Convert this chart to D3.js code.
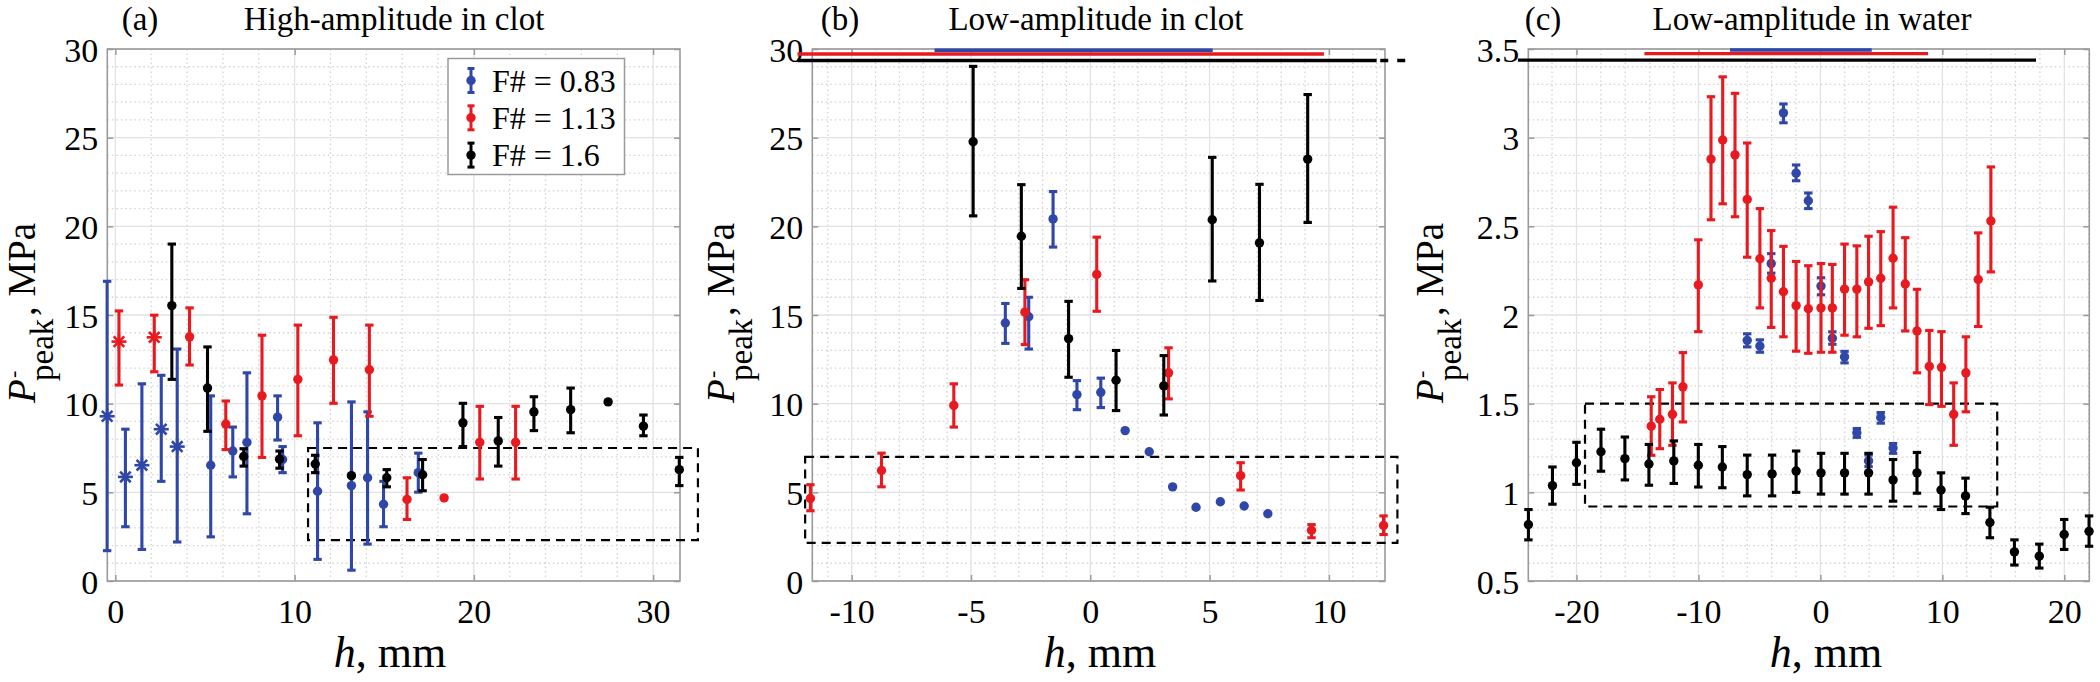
<!DOCTYPE html>
<html><head><meta charset="utf-8">
<script src="https://cdn.jsdelivr.net/npm/d3@7"></script>
<style>
body{margin:0;background:#fff}
svg{display:block}
text{font-family:"Liberation Serif","Times New Roman",serif;fill:#000}
</style>
</head><body>
<svg id="c" width="2100" height="682"></svg>
<script>
// ---------------- DATA ----------------
// each point: [h (mm), P (MPa), lower, upper, marker]
const seriesNames = ["F# = 0.83", "F# = 1.13", "F# = 1.6"];

// (a) High-amplitude in clot
const aTicksX = [0, 10, 20, 30];
const aTicksY = [0, 5, 10, 15, 20, 25, 30];
const aDomX = [-0.45, 31.5];
const aDomY = [0, 30];
const aBlue = [
  [-0.46, 9.29, 1.71, 16.9, "*"], [0.56, 5.87, 3.06, 8.56, "*"], [1.48, 6.53, 1.78, 11.12, "*"],
  [2.56, 8.56, 5.62, 11.6, "*"], [3.45, 7.58, 2.2, 13.08, "*"],
  [5.32, 6.53, 2.49, 10.44], [6.55, 7.33, 5.87, 8.68], [7.34, 7.82, 3.79, 11.74],
  [9.05, 9.24, 7.95, 10.44], [9.33, 6.85, 6.11, 7.58], [11.28, 5.06, 1.22, 8.92],
  [13.17, 5.38, 0.61, 10.1], [14.07, 5.82, 2.08, 9.54], [14.96, 4.33, 3.06, 5.62],
  [16.9, 6.11, 5.01, 7.21]
];
const aRed = [
  [0.2, 13.5, 11.05, 15.23, "*"], [2.17, 13.74, 11.8, 14.99, "*"],
  [4.14, 13.77, 12.18, 15.4], [6.16, 8.85, 7.41, 10.15], [8.18, 10.44, 6.97, 13.86],
  [10.18, 11.37, 8.19, 14.43], [12.17, 12.47, 10.02, 14.87], [14.17, 11.91, 9.29, 14.43],
  [16.27, 4.6, 3.47, 5.82], [18.34, 4.69, null, null], [20.33, 7.82, 5.75, 9.85],
  [22.33, 7.82, 5.75, 9.85]
];
const aBlack = [
  [3.15, 15.53, 11.37, 19.0], [5.14, 10.88, 8.44, 13.2], [7.16, 7.02, 6.48, 7.46],
  [9.16, 6.87, 6.36, 7.33], [11.15, 6.6, 6.11, 7.09], [13.17, 5.94, null, null],
  [15.14, 5.82, 5.31, 6.28], [17.14, 5.99, 5.09, 6.85], [19.39, 8.92, 7.58, 10.02],
  [21.36, 7.9, 6.48, 9.22], [23.35, 9.54, 8.48, 10.39], [25.4, 9.66, 8.36, 10.88],
  [27.49, 10.1, null, null], [29.46, 8.73, 8.19, 9.36], [31.46, 6.28, 5.38, 6.97]
];
const aRect = [10.75, 32.5, 2.3, 7.5];

// (b) Low-amplitude in clot
const bTicksX = [-10, -5, 0, 5, 10];
const bTicksY = [0, 5, 10, 15, 20, 25, 30];
const bDomX = [-11.65, 12.35];
const bDomY = [0, 30];
const bBlue = [
  [-3.56, 14.55, 13.4, 15.65], [-2.58, 14.9, 13.08, 16.0], [-1.56, 20.42, 18.83, 21.96],
  [-0.56, 10.51, 9.66, 11.3], [0.44, 10.64, 9.78, 11.44], [1.46, 8.48, null, null],
  [2.47, 7.29, null, null], [3.45, 5.31, null, null], [4.43, 4.16, null, null],
  [5.45, 4.47, null, null], [6.45, 4.23, null, null], [7.44, 3.79, null, null]
];
const bRed = [
  [-11.73, 4.65, 3.96, 5.43], [-8.75, 6.23, 5.31, 7.21], [-5.72, 9.9, 8.68, 11.12],
  [-2.74, 15.16, 13.33, 16.99], [0.27, 17.29, 15.21, 19.39], [3.28, 11.74, 10.27, 13.15],
  [6.3, 5.94, 5.13, 6.67], [9.27, 2.86, 2.44, 3.18], [12.29, 3.13, 2.62, 3.67]
];
const bBlack = [
  [-4.91, 24.77, 20.59, 29.02], [-2.89, 19.44, 16.5, 22.35], [-0.91, 13.67, 11.49, 15.77],
  [1.08, 11.32, 9.61, 13.0], [3.08, 11.0, 9.36, 12.71], [5.11, 20.37, 16.92, 23.89],
  [7.09, 19.07, 15.82, 22.37], [9.11, 23.79, 20.22, 27.43]
];
const bRect = [-11.95, 12.87, 2.15, 7.0];
// focal-range bars at top: [start, end, level]
const bBlueRange = [-6.53, 5.13, 29.93];
const bRedRange = [-12.27, 9.79, 29.72];
const bBlackRange = [-12.27, 12.0, 29.35];
const bBlackDashed = [12.15, 13.3, 29.35];

// (c) Low-amplitude in water
const cTicksX = [-20, -10, 0, 10, 20];
const cTicksY = [0.5, 1, 1.5, 2, 2.5, 3, 3.5];
const cDomX = [-23.95, 22.05];
const cDomY = [0.5, 3.5];
const cBlue = [
  [-6.0, 1.857, 1.82, 1.894], [-4.96, 1.825, 1.79, 1.86], [-4.03, 2.29, 2.236, 2.346],
  [-3.03, 3.14, 3.084, 3.19], [-1.99, 2.8, 2.757, 2.846], [-0.99, 2.644, 2.6, 2.688],
  [0.05, 2.163, 2.114, 2.21], [0.98, 1.869, 1.835, 1.905], [1.98, 1.764, 1.73, 1.795],
  [2.99, 1.336, 1.31, 1.36], [3.95, 1.177, 1.145, 1.21], [4.95, 1.422, 1.39, 1.45],
  [5.96, 1.25, 1.22, 1.275]
];
const cRed = [
  [-13.87, 1.373, 1.209, 1.539], [-13.17, 1.412, 1.246, 1.58], [-12.13, 1.44, 1.265, 1.617],
  [-11.27, 1.595, 1.397, 1.788], [-10.01, 2.17, 1.906, 2.424], [-8.97, 2.879, 2.537, 3.231],
  [-8.01, 2.987, 2.627, 3.343], [-7.0, 2.903, 2.554, 3.25], [-6.0, 2.652, 2.326, 2.97],
  [-4.96, 2.317, 2.04, 2.6], [-4.03, 2.207, 1.93, 2.476], [-3.03, 2.131, 1.877, 2.387],
  [-1.99, 2.053, 1.796, 2.302], [-0.99, 2.035, 1.784, 2.278], [0.05, 2.04, 1.79, 2.29],
  [0.98, 2.04, 1.79, 2.285], [1.98, 2.146, 1.886, 2.4], [2.99, 2.146, 1.877, 2.39],
  [3.95, 2.187, 1.925, 2.444], [4.95, 2.207, 1.94, 2.47], [5.96, 2.32, 2.04, 2.608],
  [6.96, 2.175, 1.91, 2.436], [7.92, 1.91, 1.674, 2.145], [8.93, 1.71, 1.495, 1.913],
  [9.93, 1.705, 1.485, 1.906], [10.93, 1.44, 1.265, 1.617], [11.93, 1.674, 1.454, 1.877],
  [12.94, 2.2, 1.935, 2.463], [13.98, 2.53, 2.243, 2.835]
];
const cBlack = [
  [-23.94, 0.818, 0.732, 0.903], [-21.97, 1.038, 0.933, 1.143], [-20.0, 1.167, 1.045, 1.282],
  [-17.99, 1.229, 1.119, 1.356], [-16.03, 1.19, 1.07, 1.312], [-14.06, 1.16, 1.04, 1.27],
  [-12.02, 1.177, 1.05, 1.29], [-10.01, 1.153, 1.03, 1.27], [-8.04, 1.143, 1.026, 1.258],
  [-6.0, 1.1, 0.98, 1.21], [-3.96, 1.104, 0.98, 1.21], [-1.99, 1.12, 1.0, 1.233],
  [0.05, 1.11, 0.99, 1.22], [1.98, 1.11, 0.99, 1.22], [3.95, 1.11, 0.99, 1.22],
  [5.96, 1.07, 0.95, 1.185], [7.92, 1.11, 0.995, 1.225], [9.89, 1.013, 0.903, 1.11],
  [11.9, 0.98, 0.88, 1.08], [13.9, 0.83, 0.744, 0.916], [15.91, 0.664, 0.59, 0.732],
  [17.95, 0.64, 0.573, 0.708], [19.99, 0.762, 0.678, 0.847], [22.03, 0.78, 0.696, 0.867]
];
const cRect = [-19.3, 14.5, 0.92, 1.5];
const cBlueRange = [-7.41, 4.21, 3.494];
const cRedRange = [-14.43, 8.83, 3.474];
const cBlackRange = [-24.8, 17.68, 3.437];

// ---------------- DRAWING ----------------
const COL = {blue: "#2f47a8", red: "#e8191f", black: "#000000"};
const svg = d3.select("#c");
const FONT = '"Liberation Serif","Times New Roman",serif';
const fmt = d => String(d);   // plain hyphen-minus like the original

function drawPanel(cfg) {
  const g = svg.append("g");
  const x = d3.scaleLinear().domain(cfg.domX).range([cfg.L, cfg.R]);
  const y = d3.scaleLinear().domain(cfg.domY).range([cfg.B, cfg.T]);

  // minor grid
  const eps = 1e-9;
  const minorX = d3.range(Math.ceil(cfg.domX[0] / cfg.mx) * cfg.mx, cfg.domX[1] + eps, cfg.mx)
    .filter(v => !cfg.ticksX.some(t => Math.abs(t - v) < 1e-6));
  const minorY = d3.range(cfg.domY[0], cfg.domY[1] + eps, cfg.my)
    .filter(v => !cfg.ticksY.some(t => Math.abs(t - v) < 1e-6) && v > cfg.domY[0] + eps && v < cfg.domY[1] - eps);
  const grid = g.append("g");
  grid.selectAll(".mx").data(minorX).join("line")
    .attr("x1", d => x(d)).attr("x2", d => x(d)).attr("y1", cfg.T).attr("y2", cfg.B)
    .attr("stroke", "#d2d2d2").attr("stroke-width", 1.3).attr("stroke-dasharray", "1.5,3");
  grid.selectAll(".my").data(minorY).join("line")
    .attr("y1", d => y(d)).attr("y2", d => y(d)).attr("x1", cfg.L).attr("x2", cfg.R)
    .attr("stroke", "#d2d2d2").attr("stroke-width", 1.3).attr("stroke-dasharray", "1.5,3");
  grid.selectAll(".gx").data(cfg.ticksX).join("line")
    .attr("x1", d => x(d)).attr("x2", d => x(d)).attr("y1", cfg.T).attr("y2", cfg.B)
    .attr("stroke", "#e2e2e2").attr("stroke-width", 1.3);
  grid.selectAll(".gy").data(cfg.ticksY).join("line")
    .attr("y1", d => y(d)).attr("y2", d => y(d)).attr("x1", cfg.L).attr("x2", cfg.R)
    .attr("stroke", "#e2e2e2").attr("stroke-width", 1.3);

  // axes
  const axCol = "#9a9a9a";
  const styleAxis = sel => {
    sel.select(".domain").remove();
    sel.selectAll(".tick line").attr("stroke", axCol).attr("stroke-width", 1.5);
    sel.attr("font-family", FONT).attr("font-size", 34);
    sel.selectAll("text").attr("fill", "#000");
  };
  const ax = g.append("g").attr("transform", `translate(0,${cfg.B})`)
    .call(d3.axisBottom(x).tickValues(cfg.ticksX).tickSizeInner(-6).tickSizeOuter(0).tickFormat(fmt));
  styleAxis(ax);
  ax.selectAll("text").attr("dy", null).attr("y", 42);
  const ay = g.append("g").attr("transform", `translate(${cfg.L},0)`)
    .call(d3.axisLeft(y).tickValues(cfg.ticksY).tickSizeInner(-6).tickSizeOuter(0).tickPadding(9).tickFormat(fmt));
  styleAxis(ay);
  ay.selectAll("text").attr("dy", "0.36em");
  const at = g.append("g").attr("transform", `translate(0,${cfg.T})`)
    .call(d3.axisTop(x).tickValues(cfg.ticksX).tickSizeInner(-6).tickSizeOuter(0).tickFormat(""));
  styleAxis(at);
  const ar = g.append("g").attr("transform", `translate(${cfg.R},0)`)
    .call(d3.axisRight(y).tickValues(cfg.ticksY).tickSizeInner(-6).tickSizeOuter(0).tickFormat(""));
  styleAxis(ar);
  g.append("rect").attr("x", cfg.L).attr("y", cfg.T).attr("width", cfg.R - cfg.L).attr("height", cfg.B - cfg.T)
    .attr("fill", "none").attr("stroke", axCol).attr("stroke-width", 1.6);

  // focus range bars at top
  (cfg.ranges || []).forEach(r => {
    g.append("line").attr("x1", x(r.v[0])).attr("x2", x(r.v[1])).attr("y1", y(r.v[2])).attr("y2", y(r.v[2]))
      .attr("stroke", r.c).attr("stroke-width", 3.4).attr("stroke-dasharray", r.dash || null);
  });

  // dashed rectangle
  const rc = cfg.rect;
  g.append("rect").attr("x", x(rc[0])).attr("y", y(rc[3])).attr("width", x(rc[1]) - x(rc[0])).attr("height", y(rc[2]) - y(rc[3]))
    .attr("fill", "none").attr("stroke", "#000").attr("stroke-width", 2.2).attr("stroke-dasharray", "9,6");

  // series
  cfg.series.forEach(s => {
    const sg = g.append("g");
    s.data.forEach(d => {
      const [h, p, lo, hi, m] = d;
      const cx = x(h), cy = y(p);
      if (lo != null && hi != null) {
        sg.append("line").attr("x1", cx).attr("x2", cx).attr("y1", y(lo)).attr("y2", y(hi))
          .attr("stroke", s.c).attr("stroke-width", 3.1);
        [lo, hi].forEach(v => sg.append("line").attr("x1", cx - 4.2).attr("x2", cx + 4.2).attr("y1", y(v)).attr("y2", y(v))
          .attr("stroke", s.c).attr("stroke-width", 3.1));
      }
      if (m === "*") {
        const R = 7.5;
        [0, 45, 90, 135].forEach(a => {
          const dx = R * Math.cos(a * Math.PI / 180), dy = R * Math.sin(a * Math.PI / 180);
          sg.append("line").attr("x1", cx - dx).attr("x2", cx + dx).attr("y1", cy - dy).attr("y2", cy + dy)
            .attr("stroke", s.c).attr("stroke-width", 2.6);
        });
      } else {
        sg.append("circle").attr("cx", cx).attr("cy", cy).attr("r", 4.7).attr("fill", s.c);
      }
    });
  });

  // titles
  svg.append("text").attr("x", cfg.tagX).attr("y", 30).attr("text-anchor", "middle").attr("font-size", 33).text(cfg.tag);
  svg.append("text").attr("x", cfg.titleX).attr("y", 30).attr("text-anchor", "middle").attr("font-size", 33).text(cfg.title);

  // x label
  const xl = svg.append("text").attr("x", cfg.xlabX).attr("y", 667).attr("text-anchor", "middle").attr("font-size", 44);
  xl.append("tspan").attr("font-style", "italic").text("h");
  xl.append("tspan").text(", mm");

  // y label (rotated)
  const yl = svg.append("g").attr("transform", `translate(${cfg.ylabX},403) rotate(-90)`);
  yl.append("text").attr("x", 0).attr("y", 0).attr("font-size", 39).attr("font-style", "italic").text("P");
  yl.append("text").attr("x", 25).attr("y", -15).attr("font-size", 22).text("-");
  yl.append("text").attr("x", 22).attr("y", 18).attr("font-size", 33).text("peak");
  yl.append("text").attr("x", 87).attr("y", 0).attr("font-size", 39).text(", MPa");

  return {g, x, y};
}

drawPanel({
  L: 107.3, R: 680, T: 49, B: 581, domX: aDomX, domY: aDomY, ticksX: aTicksX, ticksY: aTicksY,
  mx: 2, my: 1, rect: aRect,
  series: [{data: aBlue, c: COL.blue}, {data: aRed, c: COL.red}, {data: aBlack, c: COL.black}],
  tag: "(a)", tagX: 140, title: "High-amplitude in clot", titleX: 394, xlabX: 390, ylabX: 35
});
drawPanel({
  L: 812.3, R: 1385, T: 49, B: 581, domX: bDomX, domY: bDomY, ticksX: bTicksX, ticksY: bTicksY,
  mx: 1, my: 1, rect: bRect,
  ranges: [{v: bBlueRange, c: COL.blue}, {v: bRedRange, c: COL.red}, {v: bBlackRange, c: COL.black},
           {v: bBlackDashed, c: COL.black, dash: "8,9"}],
  series: [{data: bBlue, c: COL.blue}, {data: bRed, c: COL.red}, {data: bBlack, c: COL.black}],
  tag: "(b)", tagX: 840, title: "Low-amplitude in clot", titleX: 1096, xlabX: 1100, ylabX: 734
});
drawPanel({
  L: 1528.3, R: 2089.3, T: 49, B: 581, domX: cDomX, domY: cDomY, ticksX: cTicksX, ticksY: cTicksY,
  mx: 2, my: 0.1, rect: cRect,
  ranges: [{v: cBlueRange, c: COL.blue}, {v: cRedRange, c: COL.red}, {v: cBlackRange, c: COL.black}],
  series: [{data: cBlue, c: COL.blue}, {data: cRed, c: COL.red}, {data: cBlack, c: COL.black}],
  tag: "(c)", tagX: 1543, title: "Low-amplitude in water", titleX: 1812, xlabX: 1826, ylabX: 1443
});

// legend in (a)
const lg = svg.append("g");
lg.append("rect").attr("x", 448).attr("y", 58.5).attr("width", 176.5).attr("height", 116)
  .attr("fill", "#fff").attr("stroke", "#9a9a9a").attr("stroke-width", 1.5);
const legCols = [COL.blue, COL.red, COL.black];
seriesNames.forEach((name, i) => {
  const cy = 80.5 + i * 37.3, cx = 471;
  lg.append("line").attr("x1", cx).attr("x2", cx).attr("y1", cy - 12).attr("y2", cy + 12).attr("stroke", legCols[i]).attr("stroke-width", 3);
  [-12, 12].forEach(o => lg.append("line").attr("x1", cx - 3.5).attr("x2", cx + 3.5).attr("y1", cy + o).attr("y2", cy + o).attr("stroke", legCols[i]).attr("stroke-width", 3));
  lg.append("circle").attr("cx", cx).attr("cy", cy).attr("r", 4.7).attr("fill", legCols[i]);
  lg.append("text").attr("x", 492).attr("y", cy + 11).attr("font-size", 32).text(name);
});
</script>
</body></html>
